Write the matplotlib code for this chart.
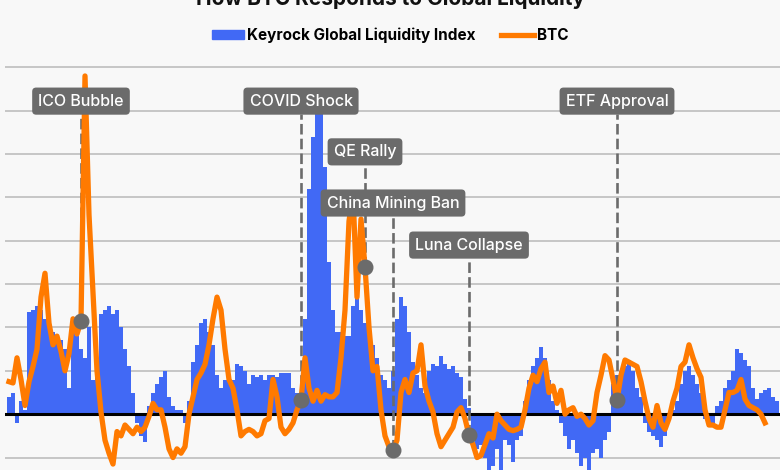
import matplotlib
matplotlib.use("Agg")
import matplotlib.pyplot as plt
import numpy as np
from matplotlib.patches import Patch
from matplotlib.lines import Line2D

plt.rcParams['font.family'] = ['Inter', 'DejaVu Sans']

# weekly index, values in std-units of the index / BTC momentum
liquidity = [
    0.4, 0.5, -0.2, 0.3, 0.1, 2.35, 2.4, 2.5, 2.4, 2.2,
    2.2, 1.9, 1.8, 1.7, 1.5, 0.6, 1.9, 1.8, 1.5, 1.3,
    2.0, 0.8, 0.9, 2.3, 2.4, 2.5, 2.3, 2.4, 2.0, 1.5,
    1.1, 0.5, -0.2, -0.5, -0.65, 0.2, 0.5, 0.7, 0.85, 1.0,
    0.4, 0.2, 0.1, 0.1, -0.2, 0.3, 1.2, 1.6, 2.1, 2.2,
    1.9, 1.6, 0.9, 0.6, 0.8, 0.8, 0.8, 1.15, 1.1, 1.0,
    0.7, 0.9, 0.85, 0.9, 0.8, 0.9, 0.9, 0.85, 0.95, 0.95,
    0.95, 0.6, 0.5, 0.4, 2.2, 5.2, 6.4, 7.3, 7.3, 5.7,
    3.5, 2.4, 1.9, 1.9, 1.8, 1.8, 2.5, 2.7, 2.4, 2.1,
    1.9, 1.6, 1.3, 0.9, 0.8, 0.6, 1.0, 2.2, 2.7, 2.5,
    1.9, 1.2, 0.9, 0.6, 0.5, 1.0, 1.15, 1.1, 1.35, 1.15,
    1.05, 1.1, 0.95, 0.85, 0.35, 0.15, -0.5, -0.8, -0.7, -1.0,
    -1.3, -1.2, -0.8, -1.3, -0.6, -0.7, -1.1, -0.6, -0.5, 0.3,
    0.8, 1.1, 1.3, 1.55, 1.3, 0.8, 0.3, 0.1, -0.2, -0.5,
    -0.8, -0.6, -0.9, -1.2, -1.0, -1.3, -0.9, -0.8, -1.0, -0.6,
    -0.4, 0.7, 0.9, 1.0, 1.1, 1.25, 1.0, 0.6, 0.4, -0.2,
    -0.4, -0.5, -0.6, -0.75, -0.5, -0.1, 0.1, 0.3, 0.7, 1.0,
    1.1, 0.9, 0.7, 0.5, -0.1, -0.3, -0.2, 0.2, 0.3, 0.6,
    0.8, 1.0, 1.5, 1.4, 1.25, 1.1, 0.6, 0.35, 0.5, 0.55,
    0.6, 0.4, 0.3,
]

btc = [
    0.75, 0.72, 1.3, 0.8, 0.2, 0.75, 1.1, 1.5, 2.7, 3.25,
    2.1, 1.6, 1.8, 1.45, 1.0, 1.4, 2.2, 1.85, 2.15, 7.8,
    4.6, 2.8, 1.0, 0.05, -0.6, -0.9, -1.15, -0.4, -0.5, -0.25,
    -0.35, -0.45, -0.3, -0.4, -0.3, -0.05, 0.25, 0.1, 0.1, -0.3,
    -0.8, -1.0, -0.8, -0.9, -0.75, 0.0, 0.4, 0.8, 0.95, 1.15,
    1.6, 2.2, 2.7, 2.4, 1.5, 0.8, 0.6, 0.1, -0.5, -0.4,
    -0.35, -0.4, -0.5, -0.45, -0.15, -0.1, 0.8, 0.4, -0.3, -0.45,
    -0.35, -0.2, 0.1, 0.32, 1.3, 0.6, 0.3, 0.55, 0.3, 0.45,
    0.4, 0.4, 0.5, 1.3, 2.4, 4.45, 5.1, 2.7, 4.5, 3.4,
    2.0, 1.0, 1.1, 0.1, -0.5, -0.75, -0.83, -0.6, 0.5, 0.8,
    0.5, 0.95, 1.0, 1.6, 0.65, 0.3, 0.05, -0.45, -0.75, -0.6,
    -0.45, -0.3, 0.05, 0.15, -0.1, -0.48, -0.7, -1.0, -0.95, -0.7,
    -0.45, -0.55, 0.0, -0.15, -0.25, -0.35, -0.38, -0.35, -0.3, 0.1,
    0.6, 0.9, 0.75, 1.05, 1.2, 0.5, 0.65, 0.25, 0.55, 0.0,
    0.1, 0.15, -0.05, 0.0, -0.1, -0.25, -0.15, 0.5, 0.9, 1.35,
    1.25, 0.8, 0.32, 0.9, 1.25, 1.2, 1.15, 1.1, 0.75, 0.3,
    -0.1, -0.3, 0.2, -0.2, -0.35, -0.1, 0.3, 0.6, 1.1, 1.2,
    1.6, 1.3, 1.05, 0.85, 0.1, -0.25, -0.25, -0.3, -0.3, 0.1,
    0.5, 0.5, 0.55, 0.8, 0.35, 0.2, 0.15, 0.1, 0.0, -0.2,
]

events = ['ICO Bubble', 'COVID Shock', 'QE Rally', 'China Mining Ban', 'Luna Collapse', 'ETF Approval']
event_week = [18, 73, 89, 96, 115, 152]
label_level = [7.22, 7.22, 6.05, 4.87, 3.9, 7.22]

blue = '#4169f5'
orange = '#ff7a00'
grey = '#6b6b6b'
bg = '#f8f8f8'

fig = plt.figure(figsize=(7.8, 4.7), dpi=100, facecolor=bg)
ax = fig.add_axes([5 / 780, 0, 775 / 780, 404 / 470])
ax.set_facecolor(bg)

xb = np.arange(len(liquidity))
xl = np.arange(len(btc))
ax.bar(xb, liquidity, width=0.82, color=blue, zorder=2)
ax.axhline(0, color='black', lw=2.2, zorder=3)
ax.plot(xl, btc, color=orange, lw=3.8, zorder=5, solid_joinstyle='round')

for name, w, lvl in zip(events, event_week, label_level):
    yv = btc[w]
    ax.plot([w, w], [yv, lvl - 0.3], color=grey, lw=1.9, ls=(0, (4, 1.6)), zorder=4)
    ax.plot(w, yv, 'o', color=grey, ms=10.5, zorder=6)
    ax.text(w, lvl, name, ha='center', va='center', color='white', fontsize=11.5,
            weight='medium', zorder=8,
            bbox=dict(boxstyle='round,pad=0.38,rounding_size=0.25', fc=grey, ec='none'))

ax.set_xlim(-1, 192.75)
ax.set_ylim(-1.287, 8.03)
ax.set_yticks(np.arange(-1, 9))
ax.grid(axis='y', color='#c2c2c2', lw=1.3, zorder=0)
ax.set_axisbelow(True)
ax.tick_params(left=False, bottom=False, labelleft=False, labelbottom=False)
for s in ax.spines.values():
    s.set_visible(False)

handles = [Patch(color=blue), Line2D([0], [0], color=orange, lw=3.8)]
leg = fig.legend(handles, ['Keyrock Global Liquidity Index', 'BTC'], loc='center',
                 bbox_to_anchor=(0.5, 1 - 35 / 470), ncol=2, frameon=False,
                 handlelength=2.1, handleheight=0.6, handletextpad=0.2, columnspacing=1.7,
                 prop={'weight': 'bold', 'size': 11})

# title sits partly above the canvas, as in the source image
fig.text(0.5, 1 - 5 / 470, 'How BTC Responds to Global Liquidity', ha='center', va='baseline',
         fontsize=15, weight='bold', color='#111111')

fig.savefig('out.png', dpi=100, facecolor=bg)
